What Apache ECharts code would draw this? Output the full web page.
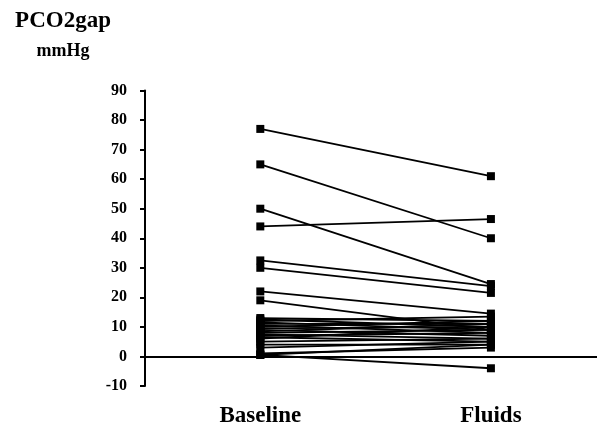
<!DOCTYPE html>
<html>
<head>
<meta charset="utf-8">
<script src="https://cdn.jsdelivr.net/npm/echarts@6/dist/echarts.min.js"></script>
<style>
html,body{margin:0;padding:0;background:#fff;}
#main{width:606px;height:425px;}
</style>
</head>
<body>
<div id="main"></div>
<script>
var categories = ['Baseline', 'Fluids'];
var baseline = [77, 65, 50, 44, 32.5, 30, 22, 19, 13, 12.5, 12, 11.5, 11, 10.5, 10, 9.5, 9, 8.5, 8, 7.5, 7, 6.5, 6, 5, 4, 3, 1, 0.5, 0.5];
var fluids   = [61, 40, 24.5, 46.5, 23.8, 21.5, 14.5, 9, 12, 10, 13.5, 9, 11, 8, 12, 10, 7, 11, 9, 6, 8, 5, 10, 6, 4, 5, 3, 4, -4];
var yTicks = {min: -10, max: 90, interval: 10};
var titleText = 'PCO2gap';
var unitText = 'mmHg';

var font = '"Liberation Serif", "Times New Roman", serif';
var series = [];
for (var i = 0; i < baseline.length; i++) {
  series.push({
    type: 'line',
    data: [[0, baseline[i]], [1, fluids[i]]],
    symbol: 'rect',
    symbolSize: 8,
    itemStyle: {color: '#000'},
    lineStyle: {color: '#000', width: 1.8},
    silent: true,
    animation: false
  });
}
series[0].markLine = {
  silent: true,
  symbol: 'none',
  label: {show: false},
  lineStyle: {color: '#000', width: 2, type: 'solid'},
  data: [{yAxis: 0}],
  animation: false
};

var chart = echarts.init(document.getElementById('main'), null, {renderer: 'canvas'});
chart.setOption({
  backgroundColor: '#fff',
  animation: false,
  title: {
    text: titleText,
    subtext: unitText,
    left: 63,
    top: 10,
    padding: 0,
    itemGap: 9,
    textAlign: 'center',
    textStyle: {fontFamily: font, fontWeight: 'bold', fontSize: 23, color: '#000'},
    subtextStyle: {fontFamily: font, fontWeight: 'bold', fontSize: 18, color: '#000'}
  },
  grid: {left: 145, right: 9, top: 90.5, bottom: 39, containLabel: false, outerBoundsMode: 'none'},
  xAxis: {
    type: 'value',
    min: -0.5,
    max: 1.46,
    interval: 0.5,
    splitLine: {show: false},
    axisLine: {show: false},
    axisTick: {show: false},
    axisLabel: {
      margin: 19,
      fontFamily: font,
      fontWeight: 'bold',
      fontSize: 23,
      color: '#000',
      showMinLabel: true,
      showMaxLabel: false,
      formatter: function (v) {
        var k = Math.round(v * 100) / 100;
        if (k === 0) return categories[0];
        if (k === 1) return categories[1];
        return '';
      }
    }
  },
  yAxis: {
    type: 'value',
    min: yTicks.min,
    max: yTicks.max,
    interval: yTicks.interval,
    splitLine: {show: false},
    axisLine: {show: true, onZero: false, lineStyle: {color: '#000', width: 2}},
    axisTick: {show: true, inside: false, length: 5, lineStyle: {color: '#000', width: 2}},
    axisLabel: {
      margin: 18,
      fontFamily: font,
      fontWeight: 'bold',
      fontSize: 16,
      color: '#000'
    }
  },
  series: series
});
</script>
</body>
</html>
